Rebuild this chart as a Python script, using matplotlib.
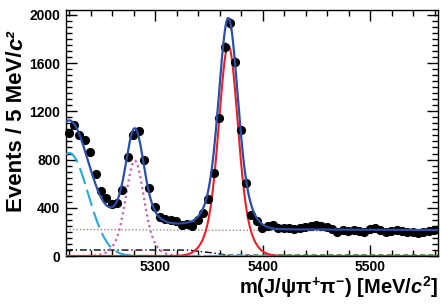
import numpy as np
import matplotlib
matplotlib.use("Agg")
import matplotlib.pyplot as plt
from matplotlib.ticker import MultipleLocator

plt.rcParams['font.family'] = ['Liberation Sans', 'DejaVu Sans']
plt.rcParams['font.weight'] = 'bold'
plt.rcParams['mathtext.fontset'] = 'custom'
plt.rcParams['mathtext.rm'] = 'Liberation Sans:bold'
plt.rcParams['mathtext.it'] = 'Liberation Sans:italic:bold'
plt.rcParams['mathtext.bf'] = 'Liberation Sans:bold'

# ---- data ----
bin_first = 5219.5
bin_width = 5.0
counts = [1018, 1087, 1004, 963, 866, 680, 542, 481, 432, 442,
          548, 819, 1004, 1040, 797, 560, 409, 326, 307, 299,
          293, 257, 266, 249, 299, 354, 471, 691, 1143, 1737,
          1930, 1612, 1046, 608, 340, 293, 230, 250, 257, 230,
          235, 230, 224, 230, 238, 245, 257, 249, 243, 225,
          202, 216, 205, 216, 210, 202, 225, 235, 216, 202,
          205, 212, 207, 200, 195, 193, 197, 205, 216]

# fit-component parameters
sig_mean, sig_amp = 5368.0, 1745.0
b0_mean, b0_amp = 5281.0, 790.0
core_sigma, tail_sigma, core_frac = 8.0, 14.0, 0.7
b0_core_sigma, b0_tail_sigma = 7.5, 13.0
part_mean, part_amp, part_sigma = 5220.0, 855.0, 17.5
comb_left, comb_right = 220.0, 205.0
black_knots_x = [5217, 5330, 5350, 5372]
black_knots_y = [50, 50, 30, 0]
green_knots_x = [5345, 5360, 5563]
green_knots_y = [0, 10, 10]

xlim = (5217, 5563)
ylim = (0, 2040)
yticks = [0, 400, 800, 1200, 1600, 2000]
xticks = [5300, 5400, 5500]

# ---- figure ----
W, H = 441, 304
fig = plt.figure(figsize=(W/100, H/100), dpi=100)
ax = fig.add_axes([66/W, 1-256/H, (438-66)/W, (256-10)/H])

x = bin_first + bin_width*np.arange(len(counts))
y = np.array(counts, dtype=float)

m = np.linspace(xlim[0], xlim[1], 800)

def dgauss(mm, mu, amp, s1, s2, f):
    return amp*(f*np.exp(-0.5*((mm-mu)/s1)**2) + (1-f)*np.exp(-0.5*((mm-mu)/s2)**2))

sig = dgauss(m, sig_mean, sig_amp, core_sigma, tail_sigma, core_frac)
b0 = dgauss(m, b0_mean, b0_amp, b0_core_sigma, b0_tail_sigma, core_frac)
part = part_amp*np.exp(-0.5*((m-part_mean)/part_sigma)**2)
comb = comb_left + (comb_right-comb_left)*(m-xlim[0])/(xlim[1]-xlim[0])
black = np.interp(m, black_knots_x, black_knots_y)
green = np.interp(m, green_knots_x, green_knots_y, left=0)
total = sig + b0 + part + comb + black + green

ax.plot(m, comb, color='#a08a7a', lw=1.0, ls=(0, (1, 1.5)), zorder=2)
ax.plot(m, black, color='black', lw=1.0, ls=(0, (5, 2, 1, 2)), zorder=2)
gm = m >= green_knots_x[1]
ax.plot(m[gm], green[gm], color='#2a8a3a', lw=1.2, ls=(0, (3, 2)), zorder=2)
ax.plot(m, part, color='#2aa6de', lw=1.5, ls=(0, (8, 3)), zorder=3)
ax.plot(m, b0, color='#c45fb5', lw=1.6, ls=(0, (1, 1.5)), zorder=3)
ax.plot(m, sig, color='#e8202a', lw=1.5, zorder=3)

ax.errorbar(x, y, yerr=np.sqrt(y), fmt='o', color='black', ms=5.6,
            elinewidth=1.0, capsize=0, zorder=4, clip_on=False)
ax.plot(m, total, color='#2b4ea6', lw=1.6, zorder=5)

ax.set_xlim(*xlim)
ax.set_ylim(*ylim)
ax.set_xticks(xticks)
ax.set_yticks(yticks)
ax.xaxis.set_minor_locator(MultipleLocator(20))
ax.yaxis.set_minor_locator(MultipleLocator(50))
ax.tick_params(which='both', direction='in', top=True, right=True,
               labelsize=10, width=1.0)
ax.tick_params(axis='y', which='major', length=8, pad=4)
ax.tick_params(axis='x', which='major', length=8, pad=3)
ax.tick_params(which='minor', length=4)
for lab in ax.get_xticklabels() + ax.get_yticklabels():
    lab.set_fontweight('bold')
for s in ax.spines.values():
    s.set_linewidth(1.0)

ax.text(330, 1730, 'LHCb', fontsize=13, fontweight='bold', ha='center', va='center')

# y label in two plain-text pieces (italic c)
ylab_x = 16.5/W
t1 = fig.text(ylab_x, 1-212/H, 'Events / 5 MeV/', rotation=90,
              ha='center', va='bottom', fontsize=16, fontweight='bold')
fig.canvas.draw()
bb = t1.get_window_extent(renderer=fig.canvas.get_renderer())
fig.text(ylab_x, (bb.y1 + 1)/H, 'c²', rotation=90, ha='center', va='bottom',
         fontsize=16, fontweight='bold', style='italic')

fig.text(438/W, 1-300/H,
         r'm(J/$\mathrm{\psi\pi}^{+}\mathrm{\pi}^{-}$) [MeV/$\mathit{c}^{2}$]',
         ha='right', va='bottom', fontsize=14.5, fontweight='bold')

fig.savefig('out.png', dpi=100)
